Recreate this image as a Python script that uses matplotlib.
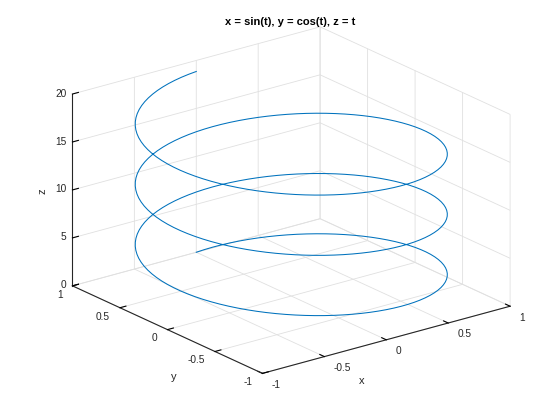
import numpy as np
import matplotlib
matplotlib.use("Agg")
import matplotlib.pyplot as plt

# helix parameter range (3 turns, z from 0 to ~18.8)
t_start = 0.0
t_end = 6 * np.pi
t_step = np.pi / 50

x_ticks = [-1, -0.5, 0, 0.5, 1]
y_ticks = [-1, -0.5, 0, 0.5, 1]
z_ticks = [0, 5, 10, 15, 20]
x_ticklabels = ["-1", "-0.5", "0", "0.5", "1"]
y_ticklabels = ["-1", "-0.5", "0", "0.5", "1"]
z_ticklabels = ["0", "5", "10", "15", "20"]

title = "x = sin(t), y = cos(t), z = t"

plt.rcParams["font.family"] = ["Liberation Sans", "DejaVu Sans"]
TXT = "#262626"
FS = 7.3

t = np.arange(t_start, t_end + t_step / 2, t_step)

fig = plt.figure(figsize=(5.6, 4.2), dpi=100)
ax = fig.add_subplot(projection="3d", proj_type="ortho")
ax.set_position([0.01, 0.01, 1.0, 1.0])

ax.plot(np.sin(t), np.cos(t), t, color="#0072BD", linewidth=0.75)

ax.set_xlim(-1, 1)
ax.set_ylim(-1, 1)
ax.set_zlim(0, 20)
ax.set_xticks(x_ticks)
ax.set_yticks(y_ticks)
ax.set_zticks(z_ticks)
ax.tick_params(axis="x", labelbottom=False)
ax.tick_params(axis="y", labelleft=False)
ax.tick_params(axis="z", labelleft=False)
# MATLAB default view, with its stretch-to-fill folded into elev and aspect
ax.view_init(elev=20.7, azim=-127.5)
ax.set_box_aspect((1, 1, 0.657), zoom=1.125)

for axis in (ax.xaxis, ax.yaxis, ax.zaxis):
    axis.set_pane_color((1, 1, 1, 0))
    axis.pane.set_edgecolor("#c8c8c8")
    axis.line.set_color(TXT)
    axis.line.set_linewidth(0.8)
    axis._axinfo["grid"].update(color="#e0e0e0", linewidth=0.6)
    axis._axinfo["tick"].update(inward_factor=0.0, outward_factor=0.3)

# tick labels offset the MATLAB way (just past the box edges)
for xv, lab in zip(x_ticks, x_ticklabels):
    ax.text(xv, -1.096, -0.75, lab, fontsize=FS, color=TXT, ha="left", va="center")
for yv, lab in zip(y_ticks, y_ticklabels):
    ax.text(-1.081, yv, -0.63, lab, fontsize=FS, color=TXT, ha="right", va="center")
for zv, lab in zip(z_ticks, z_ticklabels):
    ax.text(-0.987, 1.082, zv - 0.37, lab, fontsize=FS, color=TXT, ha="right", va="center")

# axis labels placed where MATLAB puts them
fig.text(362 / 560, 1 - 381 / 420, "x", fontsize=8, color=TXT, ha="center", va="center")
fig.text(174 / 560, 1 - 377 / 420, "y", fontsize=8, color=TXT, ha="center", va="center")
fig.text(42 / 560, 1 - 191 / 420, "z", fontsize=8, color=TXT, ha="center", va="center",
         rotation=90)

fig.text(290 / 560, 1 - 22 / 420, title, fontsize=8, fontweight="bold", ha="center", va="center")

fig.savefig("out.png", dpi=100)
